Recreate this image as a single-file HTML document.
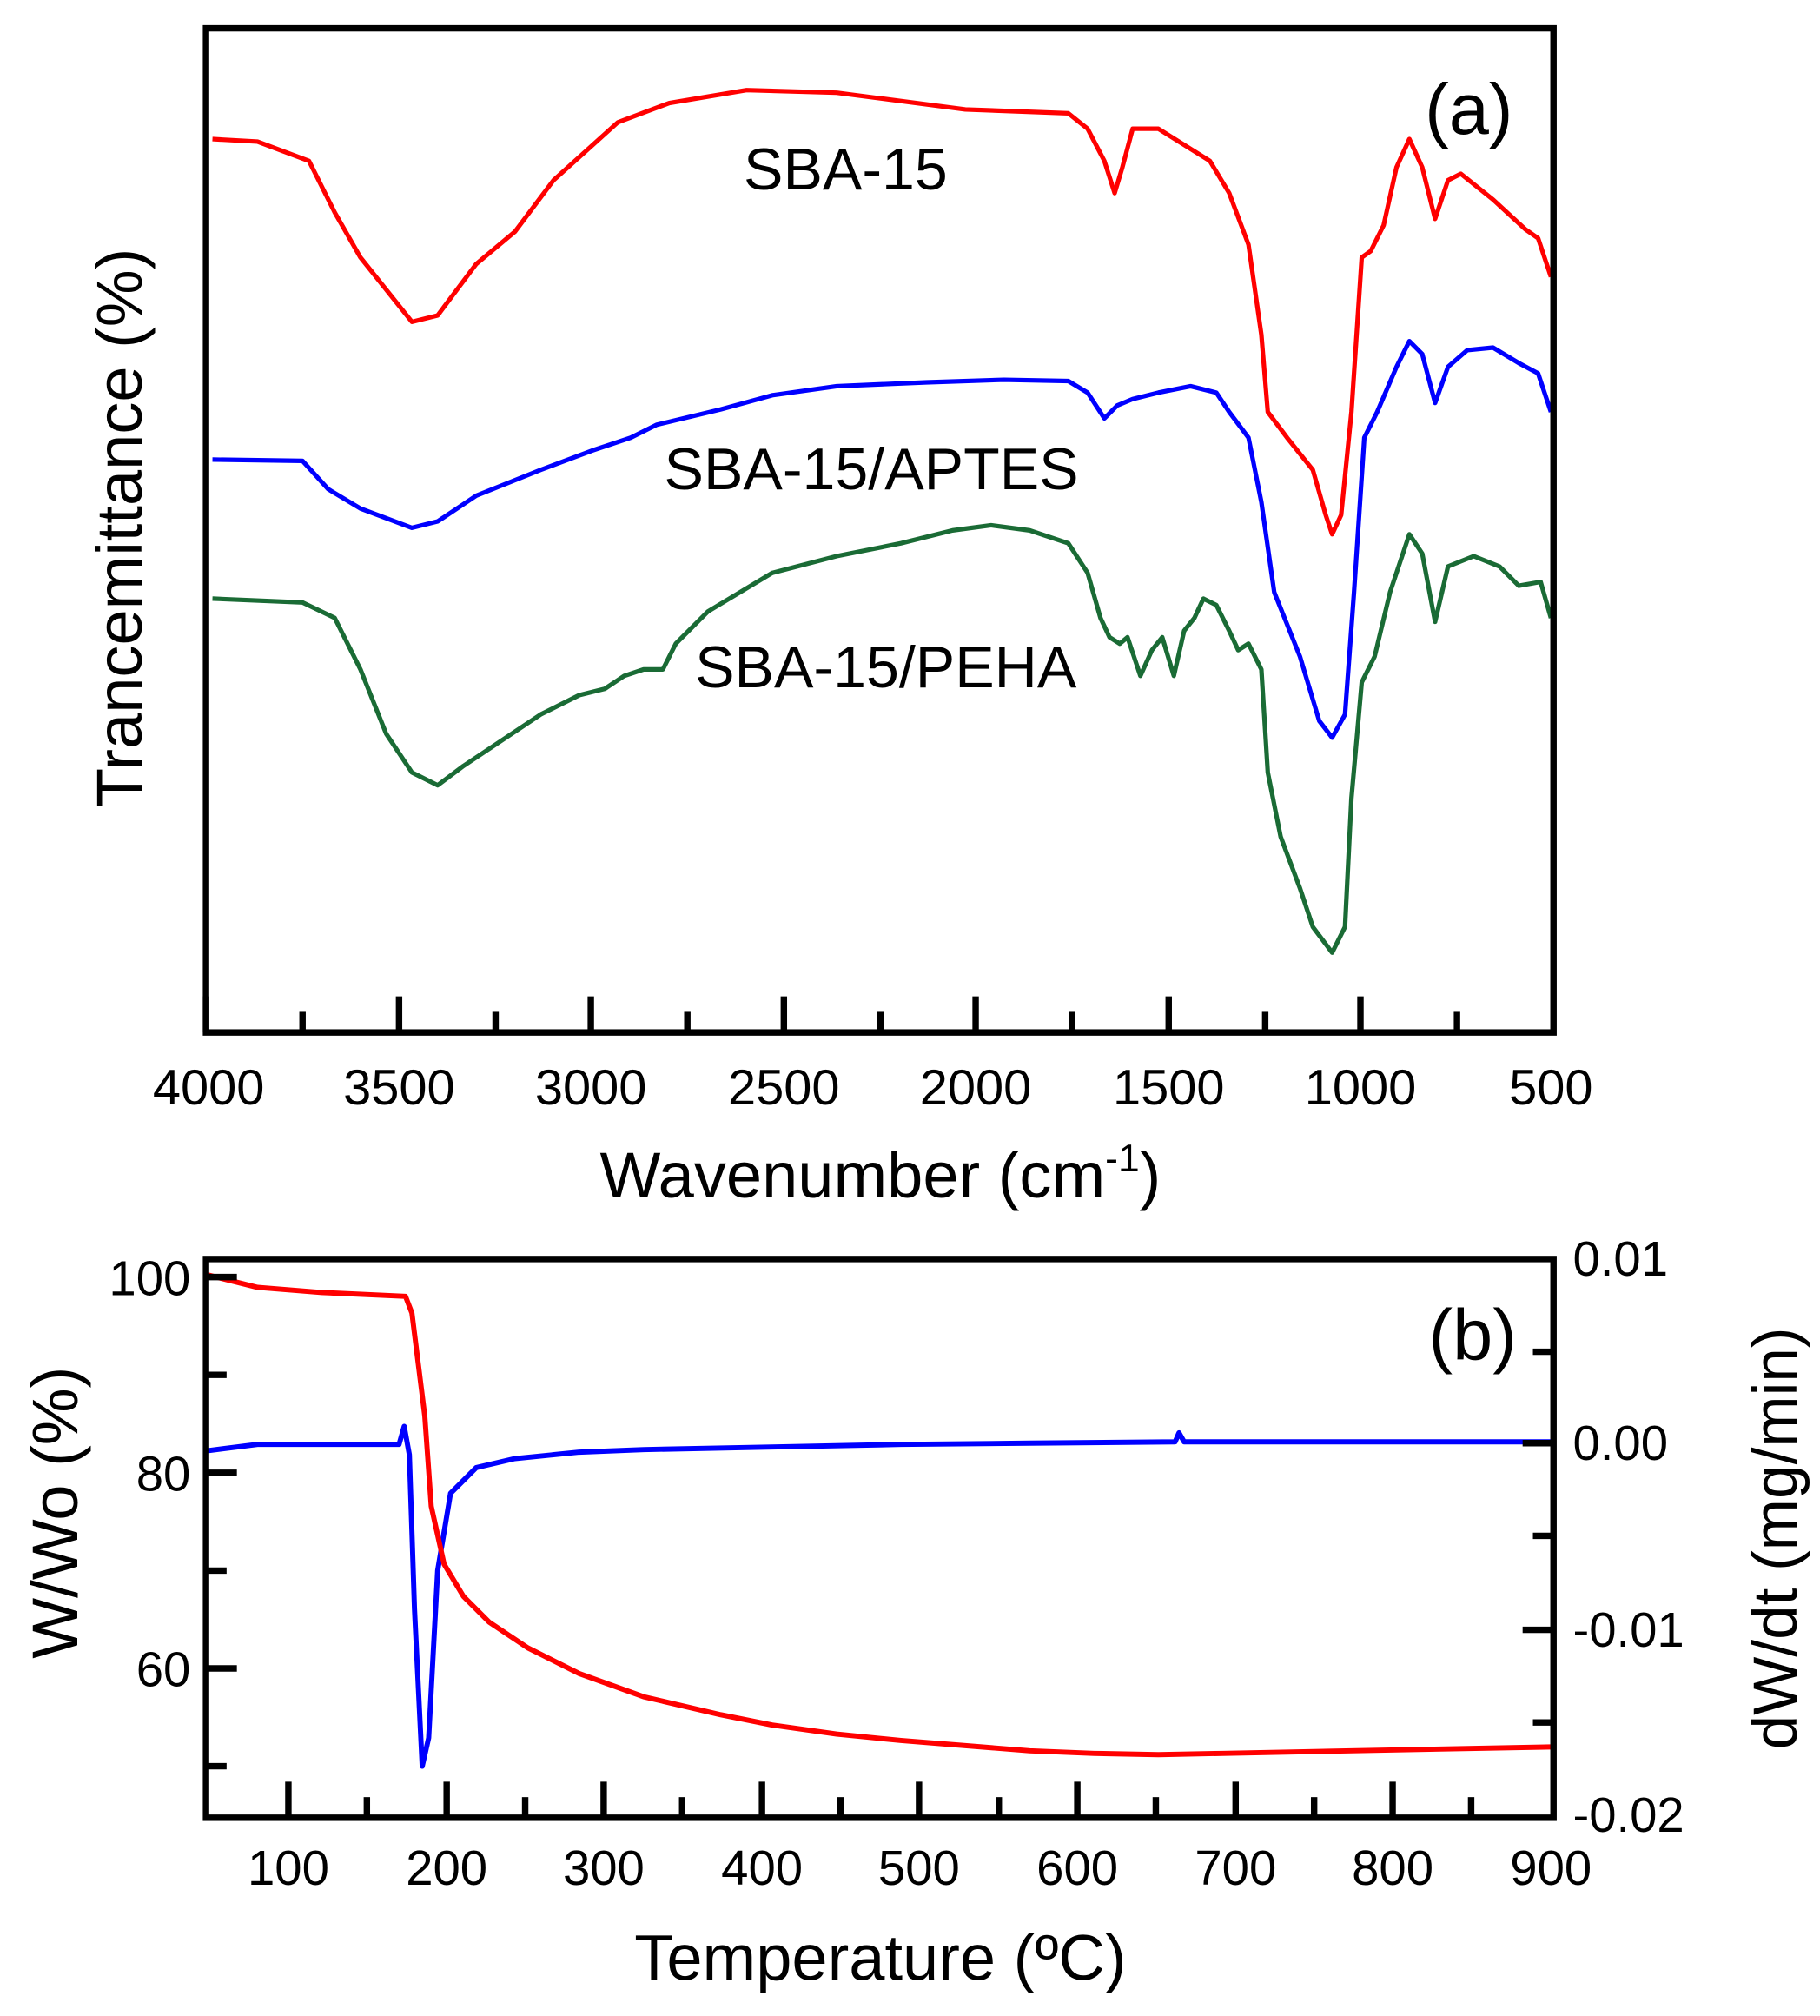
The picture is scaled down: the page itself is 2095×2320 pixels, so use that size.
<!DOCTYPE html>
<html><head><meta charset="utf-8"><style>html,body{margin:0;padding:0;background:#fff}svg{display:block}text{font-family:"Liberation Sans",sans-serif;fill:#000}</style></head>
<body>
<svg width="2095" height="2320" viewBox="0 0 1414 1566" xmlns="http://www.w3.org/2000/svg">
<rect width="1414" height="1566" fill="#fff"/>
<!-- Panel a -->
<g fill="none" stroke-width="3.5" stroke-linejoin="round">
<polyline stroke="#ff0000" points="165,108 200,110 240,125 260,165 280,200 320,250 340,245 370,205 400,180 430,140 480,95 520,80 580,70 650,72 750,85 830,88 845,100 858,125 866,150 872,130 880,100 900,100 940,125 955,150 970,190 980,260 985,320 1000,340 1020,365 1030,400 1035,415 1042,400 1050,320 1058,200 1065,195 1075,175 1085,130 1095,108 1105,130 1115,170 1125,140 1135,135 1160,155 1185,178 1195,185 1205,215"/>
<polyline stroke="#0000ff" points="165,357 235,358 255,380 280,395 320,410 340,405 370,385 420,365 460,350 490,340 510,330 560,318 600,307 650,300 720,297 780,295 830,296 845,305 858,325 868,315 880,310 900,305 925,300 945,305 955,320 970,340 980,390 990,460 1010,510 1025,560 1035,573 1045,555 1052,460 1060,340 1070,320 1085,285 1095,265 1105,275 1115,313 1125,285 1140,272 1160,270 1180,282 1195,290 1205,320"/>
<polyline stroke="#1a6b35" points="165,465 235,468 260,480 280,520 300,570 320,600 340,610 360,595 390,575 420,555 450,540 470,535 485,525 500,520 515,520 525,500 550,475 600,445 650,432 700,422 740,412 770,408 800,412 830,422 845,445 855,480 862,495 870,500 876,495 886,525 895,505 903,495 912,525 920,490 928,480 935,465 945,470 955,490 962,505 970,500 980,520 985,600 995,650 1010,690 1020,720 1035,740 1045,720 1050,620 1058,530 1068,510 1080,460 1095,415 1105,430 1115,483 1125,440 1145,432 1165,440 1180,455 1197,452 1205,480"/>
</g>
<rect x="160" y="22" width="1047" height="780" fill="none" stroke="#000" stroke-width="5"/>
<g stroke="#000" stroke-width="5">
<line x1="160" y1="802" x2="160" y2="774"/><line x1="235" y1="802" x2="235" y2="786"/>
<line x1="310" y1="802" x2="310" y2="774"/><line x1="385" y1="802" x2="385" y2="786"/>
<line x1="459" y1="802" x2="459" y2="774"/><line x1="534" y1="802" x2="534" y2="786"/>
<line x1="609" y1="802" x2="609" y2="774"/><line x1="684" y1="802" x2="684" y2="786"/>
<line x1="758" y1="802" x2="758" y2="774"/><line x1="833" y1="802" x2="833" y2="786"/>
<line x1="908" y1="802" x2="908" y2="774"/><line x1="983" y1="802" x2="983" y2="786"/>
<line x1="1057" y1="802" x2="1057" y2="774"/><line x1="1132" y1="802" x2="1132" y2="786"/>
</g>
<g font-size="39" text-anchor="middle">
<text x="162" y="858">4000</text><text x="310" y="858">3500</text><text x="459" y="858">3000</text><text x="609" y="858">2500</text><text x="758" y="858">2000</text><text x="908" y="858">1500</text><text x="1057" y="858">1000</text><text x="1205" y="858">500</text>
</g>
<text x="684" y="930" font-size="50" text-anchor="middle">Wavenumber (cm<tspan dy="-20" font-size="30">-1</tspan><tspan dy="20">)</tspan></text>
<text transform="translate(110,410) rotate(-90)" font-size="50" text-anchor="middle">Trancemittance (%)</text>
<text x="657" y="147" font-size="46" text-anchor="middle">SBA-15</text>
<text x="516" y="380" font-size="46">SBA-15/APTES</text>
<text x="540" y="534" font-size="46">SBA-15/PEHA</text>
<text x="1107" y="104" font-size="56">(a)</text>
<!-- Panel b -->
<g fill="none" stroke-width="4" stroke-linejoin="round">
<polyline stroke="#0000ff" points="160,1127 200,1122 310,1122 314,1108 318,1130 322,1250 328,1372 333,1350 340,1220 350,1160 370,1140 400,1133 450,1128 500,1126 600,1124 700,1122 800,1121 913,1120 916,1113 920,1120 1205,1120"/>
<polyline stroke="#ff0000" points="160,990 200,1000 250,1004 315,1007 320,1020 330,1100 335,1170 345,1215 360,1240 380,1260 410,1280 450,1300 500,1318 560,1332 600,1340 650,1347 700,1352 750,1356 800,1360 850,1362 900,1363 950,1362 1050,1360 1205,1357"/>
</g>
<rect x="160" y="978" width="1047" height="434" fill="none" stroke="#000" stroke-width="5"/>
<g stroke="#000" stroke-width="5">
<line x1="224" y1="1412" x2="224" y2="1384"/><line x1="285" y1="1412" x2="285" y2="1396"/>
<line x1="347" y1="1412" x2="347" y2="1384"/><line x1="408" y1="1412" x2="408" y2="1396"/>
<line x1="469" y1="1412" x2="469" y2="1384"/><line x1="530" y1="1412" x2="530" y2="1396"/>
<line x1="592" y1="1412" x2="592" y2="1384"/><line x1="653" y1="1412" x2="653" y2="1396"/>
<line x1="714" y1="1412" x2="714" y2="1384"/><line x1="776" y1="1412" x2="776" y2="1396"/>
<line x1="837" y1="1412" x2="837" y2="1384"/><line x1="898" y1="1412" x2="898" y2="1396"/>
<line x1="960" y1="1412" x2="960" y2="1384"/><line x1="1021" y1="1412" x2="1021" y2="1396"/>
<line x1="1082" y1="1412" x2="1082" y2="1384"/><line x1="1143" y1="1412" x2="1143" y2="1396"/>
<line x1="160" y1="992" x2="184" y2="992"/><line x1="160" y1="1068" x2="176" y2="1068"/>
<line x1="160" y1="1144" x2="184" y2="1144"/><line x1="160" y1="1220" x2="176" y2="1220"/>
<line x1="160" y1="1296" x2="184" y2="1296"/><line x1="160" y1="1372" x2="176" y2="1372"/>
<line x1="1207" y1="1050" x2="1191" y2="1050"/><line x1="1207" y1="1121" x2="1183" y2="1121"/>
<line x1="1207" y1="1193" x2="1191" y2="1193"/><line x1="1207" y1="1266" x2="1183" y2="1266"/>
<line x1="1207" y1="1338" x2="1191" y2="1338"/>
</g>
<g font-size="38" text-anchor="middle">
<text x="224" y="1464">100</text><text x="347" y="1464">200</text><text x="469" y="1464">300</text><text x="592" y="1464">400</text><text x="714" y="1464">500</text><text x="837" y="1464">600</text><text x="960" y="1464">700</text><text x="1082" y="1464">800</text><text x="1205" y="1464">900</text>
</g>
<g font-size="38" text-anchor="end">
<text x="148" y="1006">100</text><text x="148" y="1158">80</text><text x="148" y="1310">60</text>
</g>
<g font-size="38">
<text x="1222" y="991">0.01</text><text x="1222" y="1134">0.00</text><text x="1222" y="1279">-0.01</text><text x="1222" y="1423">-0.02</text>
</g>
<text x="684" y="1538" font-size="50" text-anchor="middle">Temperature (ºC)</text>
<text transform="translate(60,1175) rotate(-90)" font-size="50" text-anchor="middle">W/Wo (%)</text>
<text transform="translate(1396,1195) rotate(-90)" font-size="48" text-anchor="middle">dW/dt (mg/min)</text>
<text x="1110" y="1056" font-size="56">(b)</text>
</svg>
</body></html>
